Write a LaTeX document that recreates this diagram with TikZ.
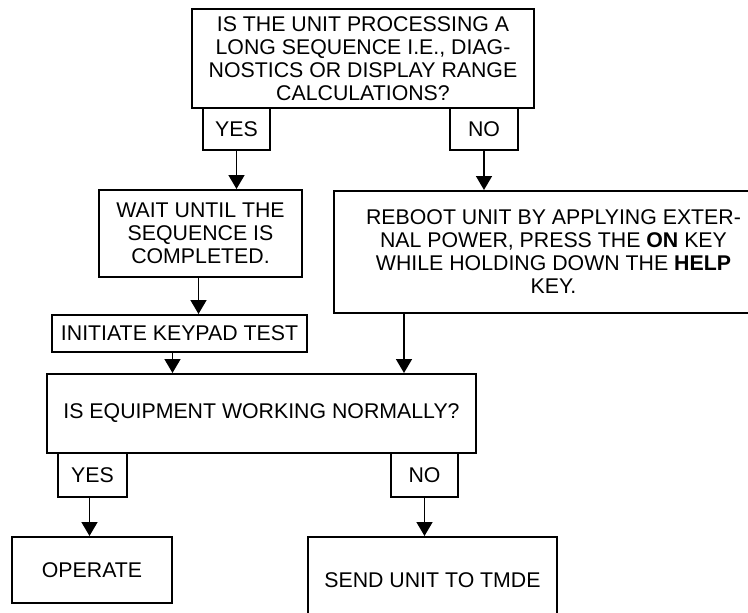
\documentclass[tikz,border=0pt]{standalone}
\usepackage{fontspec}
\setmainfont{Liberation Sans}
\usetikzlibrary{arrows.meta,calc}
\begin{document}
\begin{tikzpicture}[x=1pt,y=-1pt,
  box/.style={draw, line width=2pt, inner sep=1pt, align=center,
    font=\fontsize{21.3}{23}\selectfont},
  tab/.style={box, line width=1.7pt},
  arr/.style={line width=1.6pt, -{Triangle[width=16pt,length=14pt]}}]
\useasboundingbox (0,0) rectangle (748,613);
% top question
\node[box, minimum width=342pt, minimum height=99pt] (q1) at (363,58.5)
  {IS THE UNIT PROCESSING A\\LONG SEQUENCE I.E., DIAG-\\NOSTICS OR DISPLAY RANGE\\CALCULATIONS?};
\node[tab, minimum width=67pt, minimum height=42pt] (yes1) at (236.5,129) {YES};
\node[tab, minimum width=68pt, minimum height=42pt] (no1) at (484,129) {NO};
% wait
\node[box, minimum width=203pt, minimum height=87pt] (wait) at (200.5,233.5)
  {WAIT UNTIL THE\\SEQUENCE IS\\COMPLETED.};
% reboot
\node[box, minimum width=439pt, minimum height=122pt] (reboot) at (553.5,252)
  {REBOOT UNIT BY APPLYING EXTER-\\NAL POWER, PRESS THE \textbf{ON} KEY\\WHILE HOLDING DOWN THE \textbf{HELP}\\KEY.};
% initiate
\node[box, minimum width=255pt, minimum height=37pt] (init) at (179.5,333.5)
  {INITIATE KEYPAD TEST};
% second question
\node[box, minimum width=429pt, minimum height=79pt] (q2) at (261.5,413.5)
  {IS EQUIPMENT WORKING NORMALLY?};
\node[tab, minimum width=69pt, minimum height=44pt] (yes2) at (92.5,475) {YES};
\node[tab, minimum width=67pt, minimum height=44pt] (no2) at (424.5,475) {NO};
% outcomes
\node[box, minimum width=160pt, minimum height=66pt] (op) at (92,570) {OPERATE};
\node[box, minimum width=249pt, minimum height=86pt] (send) at (432.5,580) {SEND UNIT TO TMDE};
% connectors
\draw[arr] (yes1.south) -- (yes1.south |- wait.north);
\draw[arr] (no1.south) -- (no1.south |- reboot.north);
\draw[arr] ([xshift=-2pt]wait.south) -- ([xshift=-2pt]wait.south |- init.north);
\draw[arr] ([xshift=-7pt]init.south) -- ([xshift=-7pt]init.south |- q2.north);
\coordinate (rb) at ($(reboot.south west)+(71,0)$);
\draw[arr] (rb) -- (rb |- q2.north);
\draw[arr] ([xshift=-3pt]yes2.south) -- ([xshift=-3pt]yes2.south |- op.north);
\draw[arr] (no2.south) -- (no2.south |- send.north);
\end{tikzpicture}
\end{document}
